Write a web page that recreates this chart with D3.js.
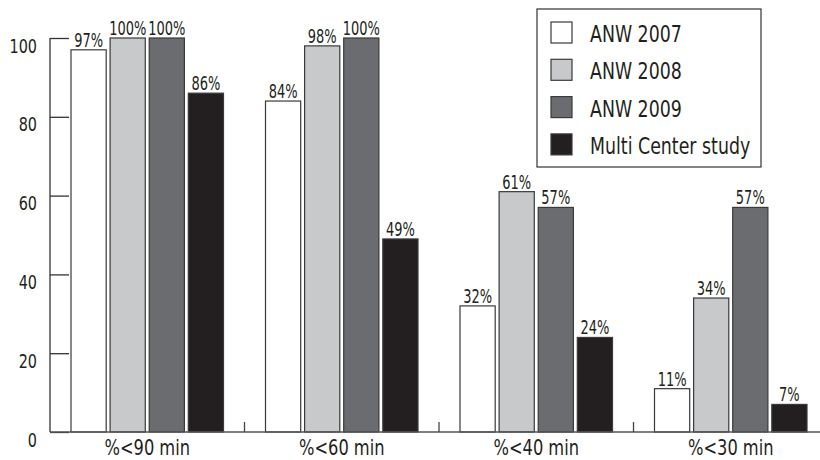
<!DOCTYPE html>
<html>
<head>
<meta charset="utf-8">
<script src="https://cdn.jsdelivr.net/npm/d3@7"></script>
<style>
  body { margin: 0; background: #fff; }
  text { font-family: "DejaVu Sans Condensed", "Liberation Sans Narrow", sans-serif; fill: #231f20; }
</style>
</head>
<body>
<div id="chart"></div>
<script>
const categories = ["%<90 min", "%<60 min", "%<40 min", "%<30 min"];
const seriesNames = ["ANW 2007", "ANW 2008", "ANW 2009", "Multi Center study"];
const anw2007 = [97, 84, 32, 11];
const anw2008 = [100, 98, 61, 34];
const anw2009 = [100, 100, 57, 57];
const multiCenter = [86, 49, 24, 7];
const yTicks = [0, 20, 40, 60, 80, 100];

const seriesValues = [anw2007, anw2008, anw2009, multiCenter];
const colors = ["#ffffff", "#c8c9cb", "#6b6c70", "#231f20"];

const width = 820, height = 460;
const svg = d3.select("#chart").append("svg")
  .attr("width", width).attr("height", height);

// squeeze glyphs a bit, the original uses a narrow font
function condense(sel, k) {
  sel.each(function() {
    const w = this.getComputedTextLength();
    d3.select(this).attr("textLength", w * k).attr("lengthAdjust", "spacingAndGlyphs");
  });
}

// scales
const x0 = d3.scaleBand().domain(categories).range([50, 828]).padding(0);
const x1 = d3.scaleBand().domain(seriesNames)
  .range([21, x0.bandwidth() - 21]).paddingInner(0.1).paddingOuter(0);
const y = d3.scaleLinear().domain([0, 100]).range([432, 38]);

// y axis
const yAxis = svg.append("g").attr("transform", "translate(50,0)")
  .call(d3.axisRight(y).tickValues(yTicks).tickSize(19).tickFormat(""));
yAxis.select(".domain").remove();
yAxis.selectAll("line").attr("stroke", "#333").attr("stroke-width", 1.3);
svg.append("line")
  .attr("x1", 50).attr("x2", 50).attr("y1", y(100)).attr("y2", y(0))
  .attr("stroke", "#333").attr("stroke-width", 1.3);
svg.selectAll(".ylab").data(yTicks).enter().append("text")
  .attr("class", "ylab")
  .attr("x", 37).attr("y", d => y(d) + 14.5)
  .attr("text-anchor", "end")
  .attr("font-size", 20)
  .attr("font-weight", 500)
  .text(d => d)
  .call(condense, 0.8);

// bars
const groups = svg.selectAll(".grp").data(categories).enter().append("g")
  .attr("class", "grp")
  .attr("transform", d => `translate(${x0(d)},0)`);

groups.each(function(cat, ci) {
  const g = d3.select(this);
  const rows = seriesNames.map((s, si) => ({ s, si, v: seriesValues[si][ci] }));
  g.selectAll("rect").data(rows).enter().append("rect")
    .attr("x", d => x1(d.s))
    .attr("y", d => y(d.v))
    .attr("width", x1.bandwidth())
    .attr("height", d => y(0) - y(d.v))
    .attr("fill", d => colors[d.si])
    .attr("stroke", "#3a3a3c")
    .attr("stroke-width", 1.2);
  g.selectAll(".val").data(rows).enter().append("text")
    .attr("class", "val")
    .attr("x", d => x1(d.s) + x1.bandwidth() / 2)
    .attr("y", d => y(d.v) - 3)
    .attr("text-anchor", "middle")
    .attr("font-size", 19)
    .text(d => d.v + "%")
    .call(condense, 0.76);
});

// x axis
svg.append("line")
  .attr("x1", 50).attr("x2", 820).attr("y1", y(0)).attr("y2", y(0))
  .attr("stroke", "#555").attr("stroke-width", 1.6);
svg.selectAll(".xtick").data(categories.slice(1)).enter().append("line")
  .attr("class", "xtick")
  .attr("x1", d => x0(d)).attr("x2", d => x0(d))
  .attr("y1", y(0)).attr("y2", y(0) - 10)
  .attr("stroke", "#444").attr("stroke-width", 1.3);
svg.selectAll(".xlab").data(categories).enter().append("text")
  .attr("class", "xlab")
  .attr("x", d => x0(d) + x0.bandwidth() / 2)
  .attr("y", 455)
  .attr("text-anchor", "middle")
  .attr("font-size", 21)
  .text(d => d)
  .call(condense, 0.86);

// legend
const legend = svg.append("g");
legend.append("rect")
  .attr("x", 537).attr("y", 9).attr("width", 224).attr("height", 158)
  .attr("fill", "#fff").attr("stroke", "#333").attr("stroke-width", 1.2);
seriesNames.forEach((s, i) => {
  legend.append("rect")
    .attr("x", 551).attr("y", 22 + i * 37.3).attr("width", 21).attr("height", 21)
    .attr("fill", colors[i]).attr("stroke", "#3a3a3c").attr("stroke-width", 1.2);
  legend.append("text")
    .attr("x", 590).attr("y", 42 + i * 37.4)
    .attr("font-size", 23)
    .text(s)
    .call(condense, 0.84);
});
</script>
</body>
</html>
